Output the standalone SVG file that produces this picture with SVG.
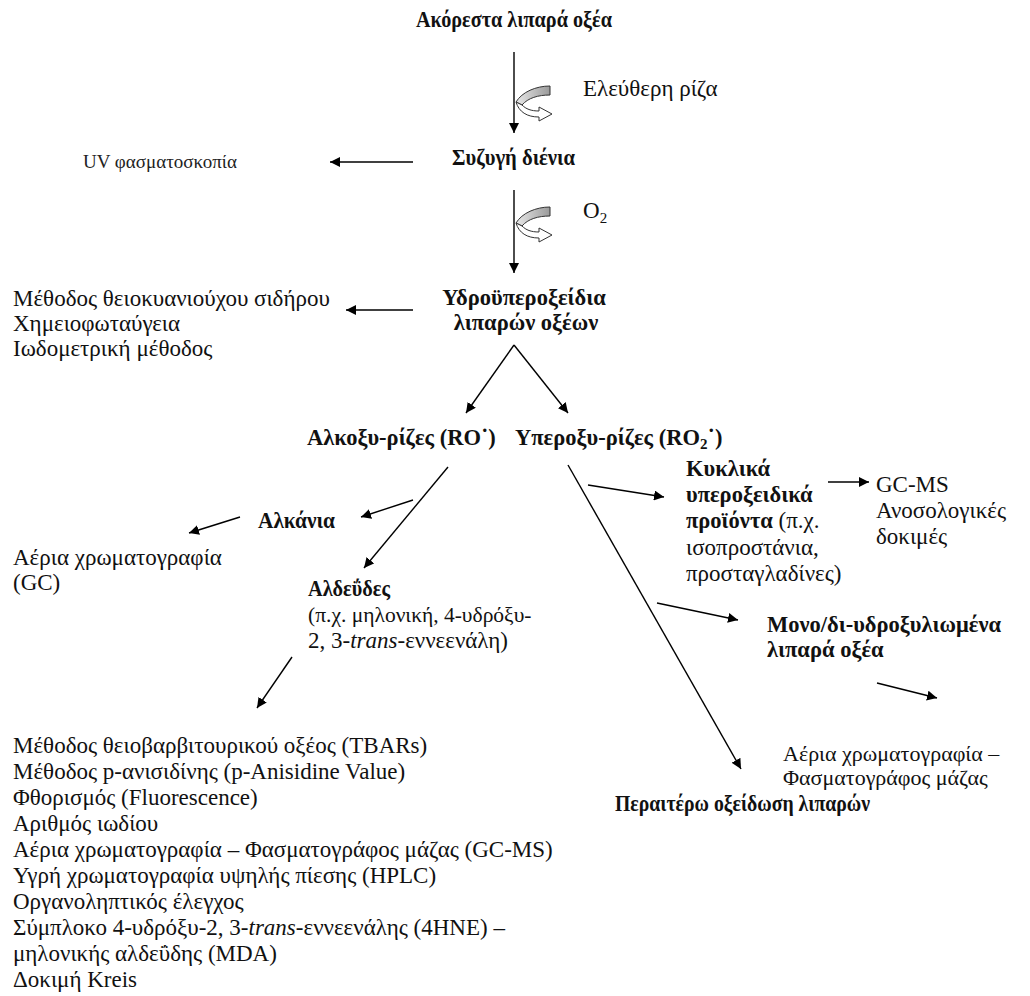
<svg xmlns="http://www.w3.org/2000/svg" width="1030" height="996" viewBox="0 0 1030 996">
<defs>
<marker id="ah" viewBox="0 0 10 10" refX="10" refY="5" markerWidth="10" markerHeight="10" markerUnits="userSpaceOnUse" orient="auto">
<path d="M0,0 L10,5 L0,10 Z" fill="#000"/>
</marker>
<linearGradient id="gband" x1="0" y1="0" x2="1" y2="0">
<stop offset="0" stop-color="#e8e8e8"/>
<stop offset="1" stop-color="#9a9a9a"/>
</linearGradient>
<g id="curl">
<path d="M36,0 C22,0 8,6 2,16 L8,19 C14,12 24,9 36,9 Z" fill="url(#gband)" stroke="#333" stroke-width="1"/>
<path d="M8,19 C12,23 17,25 25,25 L25,21 L38,28 L25,35 L25,31 C13,31 5,26 2,16 Z" fill="#fff" stroke="#333" stroke-width="1"/>
</g>
</defs>
<style>
text{font-family:"Liberation Serif","Times New Roman",serif;fill:#111;font-size:23px}
.b{font-weight:bold;font-size:22.5px}
.s{font-size:19px;fill:#222}
.c{text-anchor:middle}
#connectors line{stroke:#000;stroke-width:1.4;marker-end:url(#ah)}
</style>

<g id="connectors">
<line x1="514" y1="52" x2="514" y2="133"/>
<line x1="413" y1="162" x2="330" y2="162"/>
<line x1="514" y1="190" x2="514" y2="273"/>
<line x1="413" y1="310" x2="346" y2="310"/>
<line x1="514" y1="345" x2="466" y2="413"/>
<line x1="514" y1="345" x2="568" y2="413"/>
<line x1="448" y1="467" x2="364" y2="568"/>
<line x1="413" y1="500" x2="361" y2="517"/>
<line x1="240" y1="517" x2="189" y2="533"/>
<line x1="292" y1="657" x2="257" y2="708"/>
<line x1="568" y1="465" x2="741" y2="769"/>
<line x1="588" y1="485" x2="664" y2="497"/>
<line x1="828" y1="482" x2="869" y2="482"/>
<line x1="657" y1="603" x2="738" y2="620"/>
<line x1="877" y1="683" x2="937" y2="698"/>
<use href="#curl" x="514" y="86"/>
<use href="#curl" x="514" y="207"/>
</g>

<g id="n-title"><text class="b" x="416" y="27" textLength="196" lengthAdjust="spacingAndGlyphs">Ακόρεστα λιπαρά οξέα</text></g>
<g id="n-radical"><text x="583" y="96">Ελεύθερη ρίζα</text></g>
<g id="n-diene"><text class="b" x="452" y="165" textLength="123" lengthAdjust="spacingAndGlyphs">Συζυγή διένια</text></g>
<g id="n-uv"><text class="s" x="83" y="168">UV φασματοσκοπία</text></g>
<g id="n-o2"><text x="583" y="218">O<tspan font-size="15" dy="5">2</tspan></text></g>
<g id="n-hydro"><text class="b c" x="524" y="305">Υδροϋπεροξείδια</text><text class="b c" x="526" y="330">λιπαρών οξέων</text></g>
<g id="n-hydro-methods">
<text x="13" y="306">Μέθοδος θειοκυανιούχου σιδήρου</text>
<text x="13" y="331">Χημειοφωταύγεια</text>
<text x="13" y="356">Ιωδομετρική μέθοδος</text>
</g>
<g id="n-alkoxy"><text class="b" x="307" y="445">Αλκοξυ-ρίζες (RO˙)</text></g>
<g id="n-peroxy"><text class="b" x="515" y="445">Υπεροξυ-ρίζες (RO<tspan font-size="15" dy="4">2</tspan><tspan dy="-4">˙)</tspan></text></g>
<g id="n-alkanes"><text class="b" x="258" y="528" textLength="77" lengthAdjust="spacingAndGlyphs">Αλκάνια</text></g>
<g id="n-gc"><text x="13" y="565">Αέρια χρωματογραφία</text><text x="13" y="590">(GC)</text></g>
<g id="n-aldehydes">
<text class="b" x="308" y="596" textLength="82" lengthAdjust="spacingAndGlyphs">Αλδεΰδες</text>
<text x="308" y="622" style="font-size:21.5px">(π.χ. μηλονική, 4-υδρόξυ-</text>
<text x="308" y="648">2, 3-<tspan font-style="italic">trans</tspan>-εννεενάλη)</text>
</g>
<g id="n-ald-methods">
<text x="13" y="753">Μέθοδος θειοβαρβιτουρικού οξέος (TBARs)</text>
<text x="13" y="779">Μέθοδος p-ανισιδίνης (p-Anisidine Value)</text>
<text x="13" y="805">Φθορισμός (Fluorescence)</text>
<text x="13" y="831">Αριθμός ιωδίου</text>
<text x="13" y="857">Αέρια χρωματογραφία – Φασματογράφος μάζας (GC-MS)</text>
<text x="13" y="883">Υγρή χρωματογραφία υψηλής πίεσης (HPLC)</text>
<text x="13" y="909">Οργανοληπτικός έλεγχος</text>
<text x="13" y="935">Σύμπλοκο 4-υδρόξυ-2, 3-<tspan font-style="italic">trans</tspan>-εννεενάλης (4HNE) –</text>
<text x="13" y="961">μηλονικής αλδεΰδης (MDA)</text>
<text x="13" y="987">Δοκιμή Kreis</text>
</g>
<g id="n-cyclic">
<text class="b" x="686" y="476">Κυκλικά</text>
<text class="b" x="686" y="502">υπεροξειδικά</text>
<text x="686" y="528"><tspan class="b">προϊόντα</tspan> (π.χ.</text>
<text x="686" y="555">ισοπροστάνια,</text>
<text x="686" y="581">προσταγλαδίνες)</text>
</g>
<g id="n-gcms"><text x="876" y="492">GC-MS</text><text x="876" y="518">Ανοσολογικές</text><text x="876" y="544">δοκιμές</text></g>
<g id="n-hydroxy"><text class="b" x="767" y="632">Μονο/δι-υδροξυλιωμένα</text><text class="b" x="767" y="657">λιπαρά οξέα</text></g>
<g id="n-gcms2"><text x="783" y="761" style="font-size:22px">Αέρια χρωματογραφία –</text><text x="783" y="785" style="font-size:22px">Φασματογράφος μάζας</text></g>
<g id="n-further"><text class="b" x="615" y="811" textLength="255" lengthAdjust="spacingAndGlyphs">Περαιτέρω οξείδωση λιπαρών</text></g>
</svg>
